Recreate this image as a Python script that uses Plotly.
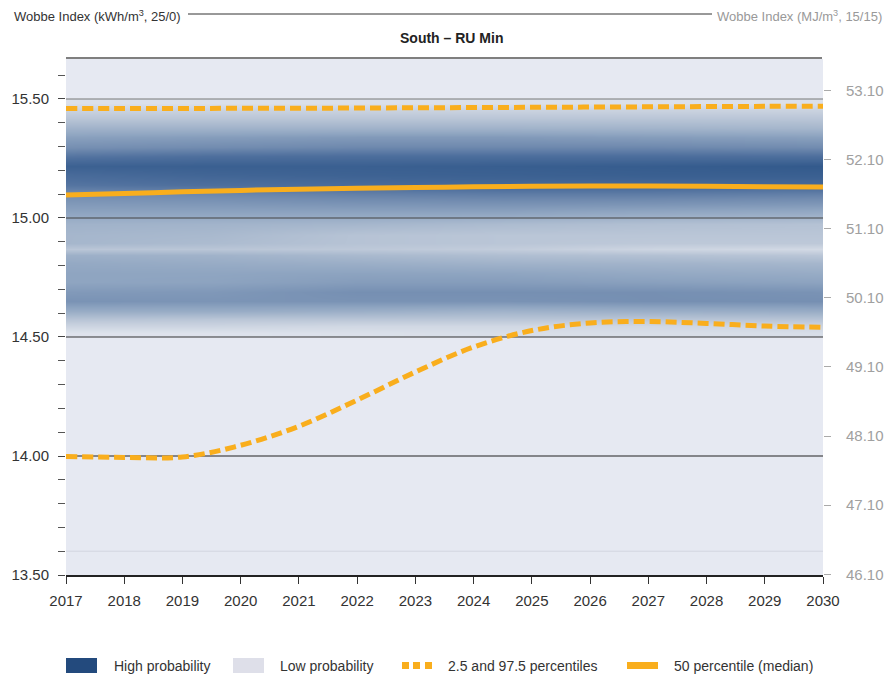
import plotly.graph_objects as go

# Jahre und Perzentile (kWh/m3, 25/0)
years = list(range(2017, 2031))
p50 = [15.097, 15.103, 15.110, 15.116, 15.121, 15.125, 15.128,
       15.131, 15.133, 15.134, 15.134, 15.133, 15.131, 15.130]
p975 = [15.460, 15.460, 15.460, 15.461, 15.461, 15.462, 15.463,
        15.464, 15.465, 15.466, 15.467, 15.468, 15.469, 15.470]
p025 = [13.998, 13.994, 13.996, 14.045, 14.125, 14.235, 14.353,
        14.458, 14.527, 14.559, 14.565, 14.557, 14.546, 14.541]

# Dichte-Baender: Mitte der Stufen (Wobbe) und Zeitpunkte
level_mid = [14.515, 14.545, 14.575, 14.61, 14.65, 14.69, 14.73, 14.77, 14.81,
             14.845, 14.87, 14.895, 14.93, 14.975, 15.02, 15.06, 15.10, 15.14,
             15.18, 15.22, 15.26, 15.30, 15.34, 15.38, 15.42, 15.455, 15.485]
period_mid = [2017, 2019.5, 2022, 2024.5, 2027, 2030]

dens_2017 = [0.06, 0.18, 0.32, 0.50, 0.66, 0.62, 0.55, 0.55, 0.52, 0.47, 0.30, 0.42, 0.42, 0.45,
             0.55, 0.62, 0.70, 0.82, 0.88, 0.95, 0.82, 0.68, 0.58, 0.45, 0.30, 0.20, 0.08]
dens_2019 = [0.06, 0.18, 0.30, 0.50, 0.65, 0.63, 0.56, 0.55, 0.50, 0.45, 0.30, 0.38, 0.40, 0.44,
             0.55, 0.63, 0.72, 0.85, 0.92, 0.96, 0.85, 0.70, 0.60, 0.45, 0.30, 0.20, 0.08]
dens_2022 = [0.08, 0.15, 0.30, 0.48, 0.66, 0.68, 0.60, 0.56, 0.48, 0.40, 0.28, 0.32, 0.32, 0.42,
             0.55, 0.65, 0.76, 0.88, 0.94, 0.96, 0.86, 0.72, 0.62, 0.45, 0.30, 0.20, 0.08]
dens_2024 = [0.10, 0.15, 0.30, 0.45, 0.66, 0.68, 0.60, 0.55, 0.45, 0.36, 0.25, 0.30, 0.30, 0.38,
             0.55, 0.66, 0.78, 0.90, 0.95, 0.97, 0.86, 0.72, 0.62, 0.45, 0.30, 0.20, 0.08]
dens_2027 = [0.10, 0.15, 0.30, 0.48, 0.68, 0.68, 0.58, 0.52, 0.44, 0.34, 0.18, 0.28, 0.30, 0.35,
             0.52, 0.65, 0.78, 0.90, 0.96, 0.98, 0.86, 0.72, 0.60, 0.44, 0.30, 0.20, 0.08]
dens_2030 = [0.10, 0.18, 0.32, 0.50, 0.68, 0.66, 0.56, 0.50, 0.42, 0.30, 0.14, 0.28, 0.30, 0.33,
             0.50, 0.63, 0.76, 0.90, 0.96, 1.00, 0.85, 0.70, 0.58, 0.42, 0.30, 0.20, 0.08]
periods = [dens_2017, dens_2019, dens_2022, dens_2024, dens_2027, dens_2030]

grid_levels = [14.0, 14.5, 15.0, 15.5]
grid_colors = ["#222222", "#333333", "#444444", "#7a7a7a"]

left_ticks = [13.5, 14.0, 14.5, 15.0, 15.5]
right_ticks = [46.1, 47.1, 48.1, 49.1, 50.1, 51.1, 52.1, 53.1]

orange = "#F9AE1D"
dunkelblau = "#234a7d"
hellgrau = "#dedfe9"
hintergrund = "#e6e9f2"
text_farbe = "#333333"
fuente = "Liberation Sans, Arial, sans-serif"

W, H = 887, 679
L, R, T, B = 66, 887 - 823, 59, 679 - 575
pw, ph = W - L - R, H - T - B


def px(x):
    # x in Pixeln -> paper
    return (x - L) / pw


def py(y):
    # y in Pixeln -> paper
    return (H - B - y) / ph


z = [[p[i] for p in periods] for i in range(len(level_mid))]

fig = go.Figure()

fig.add_trace(go.Heatmap(
    x=period_mid, y=level_mid, z=z, zmin=0, zmax=1, zsmooth="best",
    colorscale=[[0, hintergrund], [0.1, "#d8dee8"], [0.25, "#c2ccdb"], [0.4, "#a9b9ce"],
                [0.55, "#8fa5c1"], [0.7, "#728cb0"], [0.85, "#4e6f9d"], [1, "#335a8c"]],
    showscale=False, hoverinfo="skip"))

# Gitterlinien ueber der Dichte, aber unter den Perzentilen
for lv, c in zip(grid_levels, grid_colors):
    fig.add_trace(go.Scatter(x=[years[0], years[-1]], y=[lv, lv], mode="lines",
                             line=dict(color=c, width=1.2), hoverinfo="skip", showlegend=False))
fig.add_trace(go.Scatter(x=[years[0], years[-1]], y=[13.6, 13.6], mode="lines",
                         line=dict(color="#d2d6e0", width=1), hoverinfo="skip", showlegend=False))

fig.add_trace(go.Scatter(x=years, y=p975, mode="lines", line=dict(color=orange, width=5, dash="11px,5px", shape="spline"),
                         hoverinfo="skip", showlegend=False))
fig.add_trace(go.Scatter(x=years, y=p025, mode="lines", line=dict(color=orange, width=5, dash="11px,5px", shape="spline"),
                         hoverinfo="skip", showlegend=False))
fig.add_trace(go.Scatter(x=years, y=p50, mode="lines", line=dict(color=orange, width=5, shape="spline"),
                         hoverinfo="skip", showlegend=False))

# unsichtbare Spur, damit die rechte Achse (MJ/m3) gezeichnet wird
fig.add_trace(go.Scatter(x=[years[0]] * len(right_ticks), y=right_ticks, yaxis="y2", mode="markers",
                         marker=dict(opacity=0), hoverinfo="skip", showlegend=False))

fig.update_layout(
    width=W, height=H,
    margin=dict(l=L, r=R, t=T, b=B),
    paper_bgcolor="white", plot_bgcolor=hintergrund,
    font=dict(family=fuente, color=text_farbe, size=15),
    showlegend=False,
    xaxis=dict(range=[2017, 2030], tickvals=years, ticks="outside", ticklen=7, tickcolor="#333",
               showgrid=False, zeroline=False, showline=True, linecolor="#222", linewidth=1.5,
               tickfont=dict(size=15), automargin=False, ticklabelstandoff=4),
    yaxis=dict(range=[13.5, 15.668], tickvals=left_ticks, tickformat=".2f", ticks="outside",
               ticklen=7, tickcolor="#444", showgrid=False, zeroline=False, showline=False,
               ticklabelstandoff=6, tickfont=dict(size=15), automargin=False,
               minor=dict(dtick=0.1, tick0=13.5, ticks="outside", ticklen=7, tickcolor="#555", showgrid=False)),
    yaxis2=dict(range=[46.09, 53.553], overlaying="y", side="right", tickvals=right_ticks,
                tickformat=".2f", ticks="outside", ticklen=7, tickcolor="#aaa", showgrid=False,
                zeroline=False, showline=False, ticklabelstandoff=12, automargin=False,
                tickfont=dict(size=15, color="#a0a0a0")),
)

shapes = [
    dict(type="line", xref="paper", yref="paper", x0=px(188), x1=px(712), y0=py(14), y1=py(14),
         line=dict(color="#333", width=1)),
    dict(type="line", xref="paper", yref="paper", x0=px(66), x1=px(822), y0=py(58), y1=py(58),
         line=dict(color="#555", width=1.5)),
    dict(type="rect", xref="paper", yref="paper", x0=px(66), x1=px(97), y0=py(673), y1=py(658),
         fillcolor=dunkelblau, line=dict(width=0)),
    dict(type="rect", xref="paper", yref="paper", x0=px(233), x1=px(264), y0=py(673), y1=py(658),
         fillcolor=hellgrau, line=dict(width=0)),
    dict(type="rect", xref="paper", yref="paper", x0=px(627), x1=px(658), y0=py(669), y1=py(662),
         fillcolor=orange, line=dict(width=0)),
]
for x0 in [402, 413, 425]:
    shapes.append(dict(type="rect", xref="paper", yref="paper", x0=px(x0), x1=px(x0 + 7),
                       y0=py(669), y1=py(662), fillcolor=orange, line=dict(width=0)))
fig.update_layout(shapes=shapes)

annotations = [
    dict(text="Wobbe Index (kWh/m<sup>3</sup>, 25/0)", x=px(12), y=py(16), xanchor="left",
         font=dict(size=13, color=text_farbe)),
    dict(text="Wobbe Index (MJ/m<sup>3</sup>, 15/15)", x=px(884), y=py(16), xanchor="right",
         font=dict(size=13, color="#999999")),
    dict(text="<b>South – RU Min</b>", x=px(451), y=py(38), xanchor="center",
         font=dict(size=14, color="#222")),
    dict(text="High probability", x=px(112), y=py(666), xanchor="left", font=dict(size=14)),
    dict(text="Low probability", x=px(278), y=py(666), xanchor="left", font=dict(size=14)),
    dict(text="2.5 and 97.5 percentiles", x=px(446), y=py(666), xanchor="left", font=dict(size=14)),
    dict(text="50 percentile (median)", x=px(672), y=py(666), xanchor="left", font=dict(size=14)),
]
for a in annotations:
    a.update(xref="paper", yref="paper", yanchor="middle", showarrow=False)
fig.update_layout(annotations=annotations)

# Seitenrand entfernen, damit die Figur genau das Fenster fuellt
fig.write_html("out.html", config={"displayModeBar": False},
               post_script="document.body.style.margin='0';document.body.style.overflow='hidden';")
